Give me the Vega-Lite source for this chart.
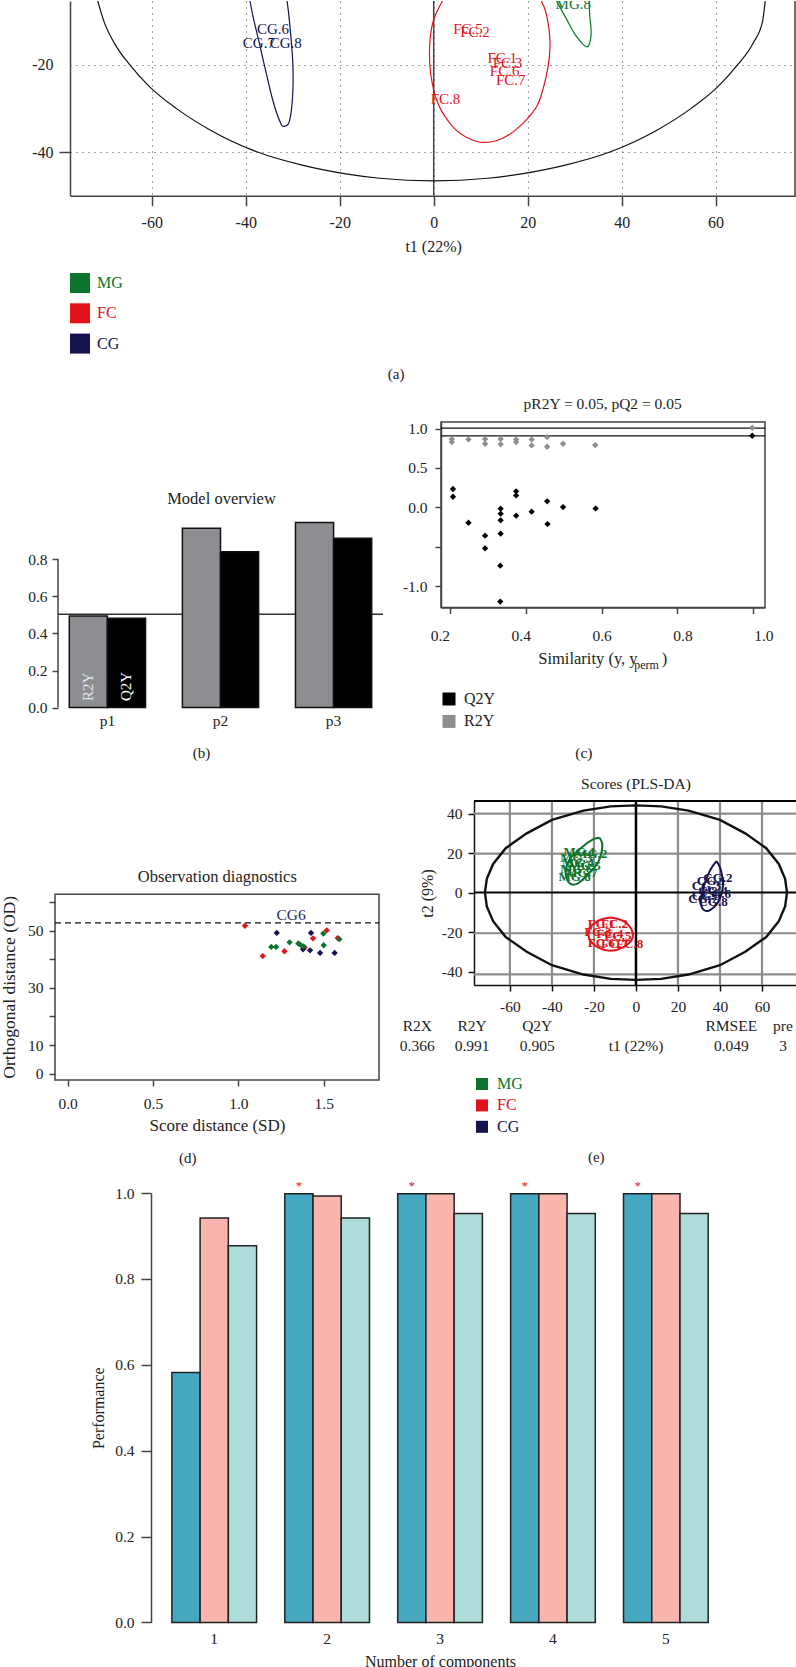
{
  "$schema": "https://vega.github.io/schema/vega-lite/v6.json",
  "padding": 0,
  "background": "white",
  "config": {
    "font": "Liberation Serif",
    "view": {"stroke": null},
    "axis": {"labelFontSize": 15.5, "titleFontSize": 16, "titleFontWeight": "normal", "labelColor": "#222", "titleColor": "#222", "domainColor": "#444", "tickColor": "#444", "domainWidth": 1.5, "tickWidth": 1.5, "grid": false, "labelFlush": false, "labelOverlap": false}
  },
  "datasets": {
    "spacer": []
  },
  "align": "none",
  "spacing": 14,
  "resolve": {"scale": {"color": "independent", "xOffset": "independent"}, "legend": {"color": "independent"}},
  "vconcat": [
    {
      "bounds": "flush",
      "spacing": 0,
      "resolve": {"scale": {"color": "independent", "xOffset": "independent"}, "legend": {"color": "independent"}},
      "hconcat": [
        {"width": 69.8, "height": 1, "data": {"name": "spacer"}, "mark": "point"},
        {
          "width": 726.2,
          "height": 194.7,
          "encoding": {
            "x": {"field": "x", "type": "quantitative", "scale": {"domain": [-77.4, 77.15], "nice": false, "zero": false}, "axis": {"title": "t1 (22%)", "values": [-60, -40, -20, 0, 20, 40, 60], "labelExpr": "replace(datum.label, '\u2212', '-')", "grid": true, "gridDash": [1, 5], "gridColor": "#444", "tickSize": 10, "labelPadding": 9, "labelFontSize": 16, "titlePadding": 8}},
            "y": {"field": "y", "type": "quantitative", "scale": {"domain": [-50, -5.4], "nice": false, "zero": false}, "axis": {"title": null, "values": [-20, -40], "labelExpr": "replace(datum.label, '\u2212', '-')", "grid": true, "gridDash": [1, 5], "gridColor": "#444", "tickSize": 11, "tickColor": {"expr": "datum.value == -40 ? '#444' : 'transparent'"}, "labelPadding": 6, "labelFontSize": 16}}
          },
          "layer": [
            {
              "data": {"values": [{"x": 0, "y": -50, "y2": -5.4}, {"x": 76.9, "y": -50, "y2": -5.4}]},
              "mark": {"type": "rule", "color": "#444", "strokeWidth": 1.5},
              "encoding": {"y2": {"field": "y2"}}
            },
            {
              "data": {"values": [
                {"i": 1, "x": -71.6, "y": -5},
                {"i": 2, "x": -70.2, "y": -10},
                {"i": 3, "x": -68, "y": -15},
                {"i": 4, "x": -64.7, "y": -20},
                {"i": 5, "x": -60.5, "y": -25},
                {"i": 6, "x": -54.8, "y": -30},
                {"i": 7, "x": -47.5, "y": -35},
                {"i": 8, "x": -37.5, "y": -40},
                {"i": 9, "x": -28, "y": -43},
                {"i": 10, "x": -18.7, "y": -45},
                {"i": 11, "x": -11.5, "y": -46},
                {"i": 12, "x": 0, "y": -46.6},
                {"i": 13, "x": 11.5, "y": -46},
                {"i": 14, "x": 18.7, "y": -45},
                {"i": 15, "x": 28, "y": -43},
                {"i": 16, "x": 37.5, "y": -40},
                {"i": 17, "x": 47.5, "y": -35},
                {"i": 18, "x": 54.8, "y": -30},
                {"i": 19, "x": 60.5, "y": -25},
                {"i": 20, "x": 64.7, "y": -20},
                {"i": 21, "x": 68, "y": -15},
                {"i": 22, "x": 70, "y": -10},
                {"i": 23, "x": 70.6, "y": -5}
              ]},
              "mark": {"type": "line", "color": "#111", "strokeWidth": 1.2, "clip": true, "interpolate": "monotone"},
              "encoding": {"order": {"field": "i"}}
            },
            {
              "data": {"values": [
                {"group": "CG", "label": "CG.6", "x": -34.2, "y": -11.9},
                {"group": "CG", "label": "CG.7", "x": -37.2, "y": -15},
                {"group": "CG", "label": "CG.8", "x": -31.5, "y": -15},
                {"group": "FC", "label": "FC.5", "x": 7.3, "y": -11.9},
                {"group": "FC", "label": "FC.2", "x": 8.8, "y": -12.4},
                {"group": "FC", "label": "FC.1", "x": 14.6, "y": -18.4},
                {"group": "FC", "label": "FC.3", "x": 15.7, "y": -19.5},
                {"group": "FC", "label": "FC.6", "x": 15.1, "y": -21.5},
                {"group": "FC", "label": "FC.7", "x": 16.4, "y": -23.6},
                {"group": "FC", "label": "FC.8", "x": 2.5, "y": -27.8},
                {"group": "MG", "label": "MG.8", "x": 29.7, "y": -6}
              ]},
              "mark": {"type": "text", "fontSize": 15, "baseline": "middle", "clip": true},
              "encoding": {
                "text": {"field": "label"},
                "color": {"field": "group", "type": "nominal", "scale": {"domain": ["MG", "FC", "CG"], "range": ["#0a742c", "#e3131b", "#14124f"]}, "legend": {"title": null, "orient": "none", "legendX": 0, "legendY": 272, "padding": 0, "symbolType": "square", "symbolSize": 400, "symbolStrokeWidth": 0, "rowPadding": 10.3, "labelFontSize": 16, "labelOffset": 7, "labelColor": {"expr": "datum.label == 'MG' ? '#0a742c' : datum.label == 'FC' ? '#e3131b' : '#14124f'"}}}
              }
            },
            {
              "data": {"values": [
                {"group": "CG", "i": 1, "x": -39.1, "y": -5.4},
                {"group": "CG", "i": 2, "x": -38.4, "y": -9.2},
                {"group": "CG", "i": 3, "x": -37.2, "y": -14.6},
                {"group": "CG", "i": 4, "x": -35.9, "y": -20.7},
                {"group": "CG", "i": 5, "x": -34.2, "y": -28.3},
                {"group": "CG", "i": 6, "x": -32.6, "y": -33.3},
                {"group": "CG", "i": 7, "x": -31.8, "y": -34.1},
                {"group": "CG", "i": 8, "x": -30.7, "y": -32.9},
                {"group": "CG", "i": 9, "x": -30, "y": -26.8},
                {"group": "CG", "i": 10, "x": -30, "y": -19.2},
                {"group": "CG", "i": 11, "x": -30.7, "y": -10},
                {"group": "CG", "i": 12, "x": -31.2, "y": -5.4},
                {"group": "FC", "i": 1, "x": 1.87, "y": -5.4},
                {"group": "FC", "i": 2, "x": -0.1, "y": -10},
                {"group": "FC", "i": 3, "x": -0.84, "y": -15.4},
                {"group": "FC", "i": 4, "x": -0.63, "y": -22.2},
                {"group": "FC", "i": 5, "x": 1, "y": -29.1},
                {"group": "FC", "i": 6, "x": 4.25, "y": -34.4},
                {"group": "FC", "i": 7, "x": 7.5, "y": -36.9},
                {"group": "FC", "i": 8, "x": 10.75, "y": -37.8},
                {"group": "FC", "i": 9, "x": 14.55, "y": -36.9},
                {"group": "FC", "i": 10, "x": 18.35, "y": -34.05},
                {"group": "FC", "i": 11, "x": 22.15, "y": -29.1},
                {"group": "FC", "i": 12, "x": 24.3, "y": -20.7},
                {"group": "FC", "i": 13, "x": 24.75, "y": -14.6},
                {"group": "FC", "i": 14, "x": 24, "y": -8.5},
                {"group": "FC", "i": 15, "x": 22.9, "y": -5.4},
                {"group": "MG", "i": 1, "x": 26.15, "y": -5.4},
                {"group": "MG", "i": 2, "x": 28.1, "y": -9.2},
                {"group": "MG", "i": 3, "x": 30.3, "y": -13.4},
                {"group": "MG", "i": 4, "x": 32.65, "y": -15.9},
                {"group": "MG", "i": 5, "x": 33.5, "y": -13.05},
                {"group": "MG", "i": 6, "x": 33.2, "y": -8.5},
                {"group": "MG", "i": 7, "x": 33.1, "y": -5.4}
              ]},
              "mark": {"type": "line", "strokeWidth": 1.2, "clip": true, "interpolate": "cardinal"},
              "encoding": {
                "order": {"field": "i"},
                "color": {"field": "group", "type": "nominal", "scale": {"domain": ["MG", "FC", "CG"], "range": ["#0a742c", "#e3131b", "#14124f"]}, "legend": null}
              }
            },
            {
              "data": {"values": [{"label": "(a)", "x": -8, "y": -90.8}]},
              "mark": {"type": "text", "fontSize": 15, "baseline": "middle", "color": "#222"},
              "encoding": {"text": {"field": "label"}}
            }
          ]
        }
      ]
    },
    {
      "bounds": "flush",
      "spacing": 0,
      "resolve": {"scale": {"color": "independent", "xOffset": "independent"}, "legend": {"color": "independent"}},
      "hconcat": [
        {"width": 57.3, "height": 1, "data": {"name": "spacer"}, "mark": "point"},
        {
          "width": 325,
          "height": 285.6,
          "encoding": {
            "x": {"field": "p", "type": "nominal", "scale": {"domain": ["p1", "p2", "p3"], "paddingInner": 0.326, "paddingOuter": 0.1}, "axis": {"title": null, "labelAngle": 0, "domain": false, "ticks": false, "labelPadding": 6}},
            "y": {"field": "v", "type": "quantitative", "scale": {"domain": [0, 1.54], "nice": false}, "axis": {"title": null, "values": [0, 0.2, 0.4, 0.6, 0.8], "format": ".1f", "domain": false, "tickSize": 6, "labelPadding": 5}}
          },
          "layer": [
            {
              "data": {"values": [{"v": 0.503}]},
              "mark": {"type": "rule", "color": "#333", "strokeWidth": 1.5},
              "encoding": {"x": {"value": 0}, "x2": {"value": 325}}
            },
            {
              "data": {"values": [{"v": 0, "v2": 0.8}]},
              "mark": {"type": "rule", "color": "#444", "strokeWidth": 1.5},
              "encoding": {"x": {"value": 0}, "y2": {"field": "v2"}}
            },
            {
              "data": {"values": [
                {"p": "p1", "series": "R2Y", "v": 0.494},
                {"p": "p1", "series": "Q2Y", "v": 0.482},
                {"p": "p2", "series": "R2Y", "v": 0.967},
                {"p": "p2", "series": "Q2Y", "v": 0.84},
                {"p": "p3", "series": "R2Y", "v": 0.998},
                {"p": "p3", "series": "Q2Y", "v": 0.913}
              ]},
              "mark": {"type": "bar", "stroke": "#111", "strokeWidth": 1.5},
              "encoding": {
                "xOffset": {"field": "series", "type": "nominal", "sort": ["R2Y", "Q2Y"]},
                "color": {"field": "series", "type": "nominal", "scale": {"domain": ["R2Y", "Q2Y"], "range": ["#8c8e91", "#000000"]}, "legend": null}
              }
            },
            {
              "data": {"values": [{"p": "p1", "series": "R2Y", "v": 0.035, "label": "R2Y"}]},
              "mark": {"type": "text", "angle": 270, "align": "left", "baseline": "middle", "fontSize": 15, "color": "#e4e4e4"},
              "encoding": {"xOffset": {"field": "series", "type": "nominal", "sort": ["R2Y", "Q2Y"]}, "text": {"field": "label"}}
            },
            {
              "data": {"values": [{"p": "p1", "series": "Q2Y", "v": 0.035, "label": "Q2Y"}]},
              "mark": {"type": "text", "angle": 270, "align": "left", "baseline": "middle", "fontSize": 15, "color": "#ffffff"},
              "encoding": {"xOffset": {"field": "series", "type": "nominal", "sort": ["R2Y", "Q2Y"]}, "text": {"field": "label"}}
            },
            {
              "data": {"values": [{"p": "p2", "v": 1.1235, "label": "Model overview"}]},
              "mark": {"type": "text", "baseline": "middle", "fontSize": 16.5, "color": "#222", "dx": 1},
              "encoding": {"text": {"field": "label"}}
            },
            {
              "data": {"values": [{"p": "p2", "v": -0.2468, "label": "(b)"}]},
              "mark": {"type": "text", "baseline": "middle", "fontSize": 15, "color": "#222", "dx": -19},
              "encoding": {"text": {"field": "label"}}
            }
          ]
        },
        {"width": 57.7, "height": 1, "data": {"name": "spacer"}, "mark": "point"},
        {
          "width": 324,
          "height": 185.6,
          "view": {"stroke": "#444", "strokeWidth": 1.5},
          "encoding": {
            "x": {"field": "x", "type": "quantitative", "scale": {"domain": [0.1754, 1.0317], "nice": false, "zero": false}, "axis": {"title": null, "values": [0.2, 0.4, 0.6, 0.8, 1], "format": ".1f", "tickSize": 6, "labelPadding": 15, "labelOffset": {"expr": "(datum.value - 0.6) * 26"}}},
            "y": {"field": "y", "type": "quantitative", "scale": {"domain": [-1.273, 1.084], "nice": false, "zero": false}, "axis": {"title": null, "values": [-1, -0.5, 0, 0.5, 1], "format": ".1f", "tickSize": 6, "labelPadding": 8, "labelExpr": "datum.value == -0.5 ? '' : replace(datum.label, '\u2212', '-')"}}
          },
          "layer": [
            {
              "data": {"values": [{"x": 0.1754, "x2": 1.0317, "y": 1.007}, {"x": 0.1754, "x2": 1.0317, "y": 0.909}]},
              "mark": {"type": "rule", "color": "#111", "strokeWidth": 1.3},
              "encoding": {"x2": {"field": "x2"}}
            },
            {
              "data": {"values": [
                {"series": "R2Y", "x": 0.204, "y": 0.867},
                {"series": "R2Y", "x": 0.204, "y": 0.829},
                {"series": "R2Y", "x": 0.248, "y": 0.863},
                {"series": "R2Y", "x": 0.292, "y": 0.867},
                {"series": "R2Y", "x": 0.292, "y": 0.808},
                {"series": "R2Y", "x": 0.333, "y": 0.867},
                {"series": "R2Y", "x": 0.333, "y": 0.8},
                {"series": "R2Y", "x": 0.374, "y": 0.863},
                {"series": "R2Y", "x": 0.374, "y": 0.829},
                {"series": "R2Y", "x": 0.415, "y": 0.863},
                {"series": "R2Y", "x": 0.415, "y": 0.787},
                {"series": "R2Y", "x": 0.456, "y": 0.893},
                {"series": "R2Y", "x": 0.456, "y": 0.77},
                {"series": "R2Y", "x": 0.498, "y": 0.808},
                {"series": "R2Y", "x": 0.583, "y": 0.791},
                {"series": "R2Y", "x": 0.998, "y": 1.011},
                {"series": "Q2Y", "x": 0.207, "y": 0.233},
                {"series": "Q2Y", "x": 0.207, "y": 0.135},
                {"series": "Q2Y", "x": 0.248, "y": -0.195},
                {"series": "Q2Y", "x": 0.292, "y": -0.36},
                {"series": "Q2Y", "x": 0.292, "y": -0.52},
                {"series": "Q2Y", "x": 0.333, "y": -0.017},
                {"series": "Q2Y", "x": 0.333, "y": -0.08},
                {"series": "Q2Y", "x": 0.333, "y": -0.165},
                {"series": "Q2Y", "x": 0.333, "y": -0.334},
                {"series": "Q2Y", "x": 0.332, "y": -0.74},
                {"series": "Q2Y", "x": 0.332, "y": -1.197},
                {"series": "Q2Y", "x": 0.374, "y": 0.203},
                {"series": "Q2Y", "x": 0.374, "y": 0.152},
                {"series": "Q2Y", "x": 0.374, "y": -0.106},
                {"series": "Q2Y", "x": 0.415, "y": -0.055},
                {"series": "Q2Y", "x": 0.456, "y": 0.076},
                {"series": "Q2Y", "x": 0.457, "y": -0.212},
                {"series": "Q2Y", "x": 0.498, "y": 0.004},
                {"series": "Q2Y", "x": 0.584, "y": -0.013},
                {"series": "Q2Y", "x": 0.998, "y": 0.909}
              ]},
              "mark": {"type": "point", "shape": "diamond", "filled": true, "size": 40, "opacity": 1},
              "encoding": {
                "color": {"field": "series", "type": "nominal", "scale": {"domain": ["Q2Y", "R2Y"], "range": ["#000000", "#8c8e91"]}, "legend": {"title": null, "orient": "none", "legendX": 0, "legendY": 269, "padding": 0, "symbolType": "square", "symbolSize": 169, "symbolStrokeWidth": 0, "symbolOpacity": 1, "rowPadding": 6.4, "labelFontSize": 16, "labelOffset": 7, "labelColor": "#222"}}
              }
            },
            {
              "data": {"values": [
                {"x": 0.6026, "y": 1.307, "label": "pR2Y = 0.05, pQ2 = 0.05"},
                {"x": 0.553, "y": -3.121, "label": "(c)"}
              ]},
              "mark": {"type": "text", "baseline": "middle", "fontSize": 15.5, "color": "#222"},
              "encoding": {"text": {"field": "label"}}
            },
            {
              "data": {"values": [
                {"x": 0.4325, "y": -1.929, "label": "Similarity (y, y"},
                {"x": 0.7585, "y": -1.929, "label": ")"}
              ]},
              "mark": {"type": "text", "baseline": "middle", "align": "left", "fontSize": 16.5, "color": "#222"},
              "encoding": {"text": {"field": "label"}}
            },
            {
              "data": {"values": [{"x": 0.686, "y": -2.005, "label": "perm"}]},
              "mark": {"type": "text", "baseline": "middle", "align": "left", "fontSize": 12, "color": "#222"},
              "encoding": {"text": {"field": "label"}}
            }
          ]
        }
      ]
    },
    {
      "bounds": "flush",
      "spacing": 0,
      "resolve": {"scale": {"color": "independent", "xOffset": "independent"}, "legend": {"color": "independent"}},
      "hconcat": [
        {"width": 54.3, "height": 1, "data": {"name": "spacer"}, "mark": "point"},
        {
          "width": 324,
          "height": 279,
          "encoding": {
            "x": {"field": "x", "type": "quantitative", "scale": {"domain": [-0.074, 1.824], "nice": false, "zero": false}, "axis": {"title": "Score distance (SD)", "values": [0, 0.5, 1, 1.5], "format": ".1f", "domain": false, "tickSize": 6, "labelPadding": 10, "titlePadding": 6, "titleFontSize": 17}},
            "y": {"field": "y", "type": "quantitative", "scale": {"domain": [-2.2, 95.3], "nice": false, "zero": false}, "axis": {"title": null, "values": [0, 10, 20, 30, 40, 50, 60], "domain": false, "tickSize": 6, "labelPadding": 6, "labelExpr": "datum.value == 20 || datum.value == 40 || datum.value == 60 ? '' : datum.label"}}
          },
          "layer": [
            {
              "data": {"values": [{"x": -0.074, "x2": 1.824, "y": -2.2, "y2": 62.7}]},
              "mark": {"type": "rect", "fill": "transparent", "stroke": "#444", "strokeWidth": 1.5},
              "encoding": {"x2": {"field": "x2"}, "y2": {"field": "y2"}}
            },
            {
              "data": {"values": [{"x": -0.074, "x2": 1.824, "y": 52.7}]},
              "mark": {"type": "rule", "color": "#111", "strokeWidth": 1.3, "strokeDash": [6, 4]},
              "encoding": {"x2": {"field": "x2"}}
            },
            {
              "data": {"values": [
                {"group": "FC", "x": 1.039, "y": 51.7},
                {"group": "FC", "x": 1.143, "y": 41.1},
                {"group": "FC", "x": 1.27, "y": 42.8},
                {"group": "FC", "x": 1.4375, "y": 47.3},
                {"group": "FC", "x": 1.518, "y": 50.1},
                {"group": "FC", "x": 1.582, "y": 47.4},
                {"group": "FC", "x": 1.389, "y": 44.1},
                {"group": "CG", "x": 1.225, "y": 49.2},
                {"group": "CG", "x": 1.426, "y": 49.2},
                {"group": "CG", "x": 1.379, "y": 43.5},
                {"group": "CG", "x": 1.42, "y": 43.1},
                {"group": "CG", "x": 1.479, "y": 42.2},
                {"group": "CG", "x": 1.564, "y": 42.2},
                {"group": "MG", "x": 1.193, "y": 44.3},
                {"group": "MG", "x": 1.221, "y": 44.3},
                {"group": "MG", "x": 1.3, "y": 45.9},
                {"group": "MG", "x": 1.352, "y": 45.5},
                {"group": "MG", "x": 1.365, "y": 45},
                {"group": "MG", "x": 1.381, "y": 44.5},
                {"group": "MG", "x": 1.498, "y": 49},
                {"group": "MG", "x": 1.5, "y": 44.9},
                {"group": "MG", "x": 1.592, "y": 47}
              ]},
              "mark": {"type": "point", "shape": "diamond", "filled": true, "size": 40, "opacity": 1},
              "encoding": {
                "color": {"field": "group", "type": "nominal", "scale": {"domain": ["FC", "CG", "MG"], "range": ["#e3131b", "#14124f", "#0a742c"]}, "legend": null}
              }
            },
            {
              "data": {"values": [{"x": 1.309, "y": 55.4, "label": "CG6"}]},
              "mark": {"type": "text", "baseline": "middle", "fontSize": 15.5, "color": "#1f1d66"},
              "encoding": {"text": {"field": "label"}}
            },
            {
              "data": {"values": [
                {"x": 0.877, "y": 68.6, "label": "Observation diagnostics"}
              ]},
              "mark": {"type": "text", "baseline": "middle", "fontSize": 16.5, "color": "#222"},
              "encoding": {"text": {"field": "label"}}
            },
            {
              "data": {"values": [
                {"x": 0.703, "y": -29.3, "label": "(d)"}
              ]},
              "mark": {"type": "text", "baseline": "middle", "fontSize": 15, "color": "#222"},
              "encoding": {"text": {"field": "label"}}
            },
            {
              "data": {"values": [{"x": -0.337, "y": 30.2, "label": "Orthogonal distance (OD)"}]},
              "mark": {"type": "text", "baseline": "middle", "angle": 270, "fontSize": 17.5, "color": "#222"},
              "encoding": {"text": {"field": "label"}}
            }
          ]
        },
        {"width": 94.4, "height": 1, "data": {"name": "spacer"}, "mark": "point"},
        {
          "width": 323.3,
          "height": 184,
          "encoding": {
            "x": {"field": "x", "type": "quantitative", "scale": {"domain": [-77.1, 76.8], "nice": false, "zero": false}, "axis": {"title": null, "values": [-60, -40, -20, 0, 20, 40, 60], "labelExpr": "replace(datum.label, '\u2212', '-')", "domainColor": "#111", "tickColor": "#111", "tickSize": 6, "labelPadding": 8}},
            "y": {"field": "y", "type": "quantitative", "scale": {"domain": [-46.8, 46.4], "nice": false, "zero": false}, "axis": {"title": "t2 (9%)", "values": [-40, -20, 0, 20, 40], "labelExpr": "replace(datum.label, '\u2212', '-')", "domainColor": "#111", "tickColor": "#111", "tickSize": 6, "labelPadding": 6, "titlePadding": 6}}
          },
          "layer": [
            {
              "data": {"values": [
                {"x": -60, "y": -46.8, "y2": 46.4},
                {"x": -40, "y": -46.8, "y2": 46.4},
                {"x": -20, "y": -46.8, "y2": 46.4},
                {"x": 20, "y": -46.8, "y2": 46.4},
                {"x": 40, "y": -46.8, "y2": 46.4},
                {"x": 60, "y": -46.8, "y2": 46.4}
              ]},
              "mark": {"type": "rule", "color": "#8c8c8c", "strokeWidth": 2.2},
              "encoding": {"y2": {"field": "y2"}}
            },
            {
              "data": {"values": [
                {"x": -77.1, "x2": 76.8, "y": 40},
                {"x": -77.1, "x2": 76.8, "y": 19.7},
                {"x": -77.1, "x2": 76.8, "y": -20.6},
                {"x": -77.1, "x2": 76.8, "y": -41.4}
              ]},
              "mark": {"type": "rule", "color": "#8c8c8c", "strokeWidth": 2.2},
              "encoding": {"x2": {"field": "x2"}}
            },
            {
              "data": {"values": [{"x": 0, "y": -46.8, "y2": 46.4}]},
              "mark": {"type": "rule", "color": "#000", "strokeWidth": 2.5},
              "encoding": {"y2": {"field": "y2"}}
            },
            {
              "data": {"values": [
                {"x": -77.1, "x2": 76.8, "y": 0},
                {"x": -77.1, "x2": 76.8, "y": 46.4}
              ]},
              "mark": {"type": "rule", "color": "#000", "strokeWidth": 2},
              "encoding": {"x2": {"field": "x2"}}
            },
            {
              "data": {"values": [
                {"i": 1, "x": -71.9, "y": 0},
                {"i": 2, "x": -71, "y": -7},
                {"i": 3, "x": -68, "y": -14.5},
                {"i": 4, "x": -62, "y": -22.5},
                {"i": 5, "x": -52, "y": -30},
                {"i": 6, "x": -40, "y": -36.8},
                {"i": 7, "x": -25, "y": -41.5},
                {"i": 8, "x": -12, "y": -43.7},
                {"i": 9, "x": 0, "y": -44.2},
                {"i": 10, "x": 12, "y": -43.7},
                {"i": 11, "x": 25, "y": -41.5},
                {"i": 12, "x": 40, "y": -36.8},
                {"i": 13, "x": 52, "y": -30},
                {"i": 14, "x": 62, "y": -22.5},
                {"i": 15, "x": 68, "y": -14.5},
                {"i": 16, "x": 71, "y": -7},
                {"i": 17, "x": 71.9, "y": 0},
                {"i": 18, "x": 71, "y": 7},
                {"i": 19, "x": 68, "y": 14.5},
                {"i": 20, "x": 62, "y": 22.5},
                {"i": 21, "x": 52, "y": 30},
                {"i": 22, "x": 40, "y": 36.8},
                {"i": 23, "x": 25, "y": 41.5},
                {"i": 24, "x": 12, "y": 43.7},
                {"i": 25, "x": 0, "y": 44.2},
                {"i": 26, "x": -12, "y": 43.7},
                {"i": 27, "x": -25, "y": 41.5},
                {"i": 28, "x": -40, "y": 36.8},
                {"i": 29, "x": -52, "y": 30},
                {"i": 30, "x": -62, "y": 22.5},
                {"i": 31, "x": -68, "y": 14.5},
                {"i": 32, "x": -71, "y": 7},
                {"i": 33, "x": -71.9, "y": 0}
              ]},
              "mark": {"type": "line", "color": "#111", "strokeWidth": 2.4},
              "encoding": {"order": {"field": "i"}}
            },
            {
              "data": {"values": [
                {"group": "MG", "label": "MG.1", "x": -26.8, "y": 20.5},
                {"group": "MG", "label": "MG.2", "x": -21.3, "y": 19.4},
                {"group": "MG", "label": "MG.3", "x": -28.4, "y": 17.7},
                {"group": "MG", "label": "MG.4", "x": -27.6, "y": 15.2},
                {"group": "MG", "label": "MG.5", "x": -24.4, "y": 13.5},
                {"group": "MG", "label": "MG.6", "x": -28.4, "y": 11.8},
                {"group": "MG", "label": "MG.7", "x": -26, "y": 10.1},
                {"group": "MG", "label": "MG.8", "x": -29.2, "y": 8.1},
                {"group": "FC", "label": "FC.1", "x": -16.5, "y": -16},
                {"group": "FC", "label": "FC.2", "x": -10.2, "y": -16},
                {"group": "FC", "label": "FC.3", "x": -18.1, "y": -20.2},
                {"group": "FC", "label": "FC.4", "x": -12.5, "y": -21},
                {"group": "FC", "label": "FC.5", "x": -8.6, "y": -21.9},
                {"group": "FC", "label": "FC.6", "x": -16.5, "y": -25.3},
                {"group": "FC", "label": "FC.7", "x": -10.2, "y": -26.1},
                {"group": "FC", "label": "FC.8", "x": -3, "y": -26.1},
                {"group": "CG", "label": "CG.1", "x": 35.9, "y": 5.9},
                {"group": "CG", "label": "CG.2", "x": 39, "y": 7.6},
                {"group": "CG", "label": "CG.3", "x": 33.5, "y": 3.4},
                {"group": "CG", "label": "CG.4", "x": 36.7, "y": 0.8},
                {"group": "CG", "label": "CG.5", "x": 33.5, "y": -1.7},
                {"group": "CG", "label": "CG.6", "x": 38.3, "y": -0.8},
                {"group": "CG", "label": "CG.7", "x": 31.9, "y": -3.4},
                {"group": "CG", "label": "CG.8", "x": 36.7, "y": -5}
              ]},
              "mark": {"type": "text", "fontSize": 13, "fontWeight": "bold", "baseline": "middle"},
              "encoding": {
                "text": {"field": "label"},
                "color": {"field": "group", "type": "nominal", "scale": {"domain": ["MG", "FC", "CG"], "range": ["#0a742c", "#e3131b", "#14124f"]}, "legend": {"title": null, "orient": "none", "legendX": 0, "legendY": 275, "padding": 0, "symbolType": "square", "symbolSize": 144, "symbolStrokeWidth": 0, "rowPadding": 5.4, "labelFontSize": 16, "labelOffset": 7, "labelColor": {"expr": "datum.label == 'MG' ? '#0a742c' : datum.label == 'FC' ? '#e3131b' : '#14124f'"}}}
              }
            },
            {
              "data": {"values": [
                {"group": "MG", "i": 1, "x": -17.3, "y": 27.8},
                {"group": "MG", "i": 2, "x": -16, "y": 23.6},
                {"group": "MG", "i": 3, "x": -18.1, "y": 15.2},
                {"group": "MG", "i": 4, "x": -22.9, "y": 9.3},
                {"group": "MG", "i": 5, "x": -27.6, "y": 4.7},
                {"group": "MG", "i": 6, "x": -31.6, "y": 4.7},
                {"group": "MG", "i": 7, "x": -33.5, "y": 10.1},
                {"group": "MG", "i": 8, "x": -31.6, "y": 16.8},
                {"group": "MG", "i": 9, "x": -26, "y": 22.7},
                {"group": "MG", "i": 10, "x": -20.5, "y": 26.9},
                {"group": "MG", "i": 11, "x": -17.3, "y": 27.8},
                {"group": "FC", "i": 1, "x": -12.1, "y": -12.6},
                {"group": "FC", "i": 2, "x": -6.2, "y": -14.3},
                {"group": "FC", "i": 3, "x": -2.2, "y": -18.5},
                {"group": "FC", "i": 4, "x": -1.9, "y": -23.6},
                {"group": "FC", "i": 5, "x": -6.2, "y": -27.8},
                {"group": "FC", "i": 6, "x": -12.1, "y": -29.5},
                {"group": "FC", "i": 7, "x": -18.1, "y": -27.8},
                {"group": "FC", "i": 8, "x": -22.1, "y": -23.6},
                {"group": "FC", "i": 9, "x": -22.1, "y": -18.5},
                {"group": "FC", "i": 10, "x": -18.1, "y": -14.3},
                {"group": "FC", "i": 11, "x": -12.1, "y": -12.6},
                {"group": "CG", "i": 1, "x": 38.3, "y": 16},
                {"group": "CG", "i": 2, "x": 40.3, "y": 11.8},
                {"group": "CG", "i": 3, "x": 41.4, "y": 3.4},
                {"group": "CG", "i": 4, "x": 39, "y": -5},
                {"group": "CG", "i": 5, "x": 34.3, "y": -9.3},
                {"group": "CG", "i": 6, "x": 31.1, "y": -6.7},
                {"group": "CG", "i": 7, "x": 31.9, "y": 1.7},
                {"group": "CG", "i": 8, "x": 35.1, "y": 10.9},
                {"group": "CG", "i": 9, "x": 38.3, "y": 16}
              ]},
              "mark": {"type": "line", "strokeWidth": 2, "interpolate": "cardinal"},
              "encoding": {
                "order": {"field": "i"},
                "color": {"field": "group", "type": "nominal", "scale": {"domain": ["MG", "FC", "CG"], "range": ["#0a742c", "#e3131b", "#14124f"]}, "legend": null}
              }
            },
            {
              "data": {"values": [
                {"x": 0, "y": 55, "label": "Scores (PLS-DA)"},
                {"x": -104.1, "y": -67.5, "label": "R2X"},
                {"x": -104.1, "y": -77.7, "label": "0.366"},
                {"x": -78, "y": -67.5, "label": "R2Y"},
                {"x": -78, "y": -77.7, "label": "0.991"},
                {"x": -47, "y": -67.5, "label": "Q2Y"},
                {"x": -47, "y": -77.7, "label": "0.905"},
                {"x": 0, "y": -77.7, "label": "t1 (22%)"},
                {"x": 45.4, "y": -67.5, "label": "RMSEE"},
                {"x": 45.4, "y": -77.7, "label": "0.049"},
                {"x": 70, "y": -67.5, "label": "pre"},
                {"x": 70, "y": -77.7, "label": "3"}
              ]},
              "mark": {"type": "text", "baseline": "middle", "fontSize": 15.5, "color": "#222"},
              "encoding": {"text": {"field": "label"}}
            },
            {
              "data": {"values": [{"x": -18.9, "y": -134, "label": "(e)"}]},
              "mark": {"type": "text", "baseline": "middle", "fontSize": 15, "color": "#222"},
              "encoding": {"text": {"field": "label"}}
            }
          ]
        }
      ]
    },
    {
      "bounds": "flush",
      "spacing": 0,
      "resolve": {"scale": {"color": "independent", "xOffset": "independent"}, "legend": {"color": "independent"}},
      "hconcat": [
        {"width": 150.8, "height": 1, "data": {"name": "spacer"}, "mark": "point"},
        {
          "width": 578.1,
          "height": 429.4,
          "encoding": {
            "x": {"field": "n", "type": "nominal", "scale": {"domain": ["1", "2", "3", "4", "5"], "paddingInner": 0.25, "paddingOuter": 0.185}, "axis": {"title": "Number of components", "labelAngle": 0, "domain": false, "ticks": false, "labelPadding": 9, "titlePadding": 7}},
            "y": {"field": "v", "type": "quantitative", "scale": {"domain": [0, 1], "nice": false}, "axis": {"title": "Performance", "values": [0, 0.2, 0.4, 0.6, 0.8, 1], "format": ".1f", "tickSize": 10, "labelPadding": 7, "titlePadding": 8}}
          },
          "layer": [
            {
              "data": {"values": [
                {"n": "1", "series": "A", "v": 0.582},
                {"n": "1", "series": "B", "v": 0.942},
                {"n": "1", "series": "C", "v": 0.877},
                {"n": "2", "series": "A", "v": 0.998},
                {"n": "2", "series": "B", "v": 0.993},
                {"n": "2", "series": "C", "v": 0.942},
                {"n": "3", "series": "A", "v": 0.998},
                {"n": "3", "series": "B", "v": 0.998},
                {"n": "3", "series": "C", "v": 0.952},
                {"n": "4", "series": "A", "v": 0.998},
                {"n": "4", "series": "B", "v": 0.998},
                {"n": "4", "series": "C", "v": 0.952},
                {"n": "5", "series": "A", "v": 0.998},
                {"n": "5", "series": "B", "v": 0.998},
                {"n": "5", "series": "C", "v": 0.952}
              ]},
              "mark": {"type": "bar", "stroke": "#222", "strokeWidth": 1.5},
              "encoding": {
                "xOffset": {"field": "series", "type": "nominal"},
                "color": {"field": "series", "type": "nominal", "scale": {"domain": ["A", "B", "C"], "range": ["#45a7c0", "#fab6ae", "#addcdb"]}, "legend": null}
              }
            },
            {
              "data": {"values": [
                {"n": "2", "series": "A", "v": 1.016},
                {"n": "3", "series": "A", "v": 1.016},
                {"n": "4", "series": "A", "v": 1.016},
                {"n": "5", "series": "A", "v": 1.016}
              ]},
              "mark": {"type": "text", "text": "*", "fontSize": 13, "baseline": "middle", "color": "#e3131b"},
              "encoding": {"xOffset": {"field": "series", "type": "nominal", "scale": {"domain": ["A", "B", "C"]}}}
            }
          ]
        }
      ]
    }
  ]
}
